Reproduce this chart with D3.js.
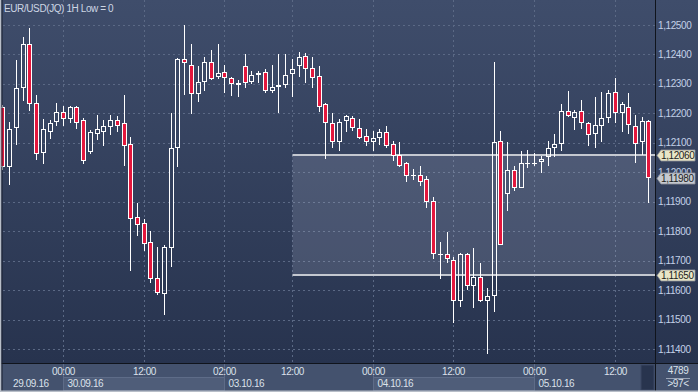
<!DOCTYPE html>
<html><head><meta charset="utf-8">
<script src="https://cdn.jsdelivr.net/npm/d3@7"></script>
<style>html,body{margin:0;padding:0;background:#2f3c58;overflow:hidden}svg{display:block}</style>
</head><body><svg id="c" width="698" height="392"></svg>
<script>
const title = "EUR/USD(JQ) 1H Low = 0";
const opens = [1.12222,1.12018,1.12150,1.12286,1.12435,1.12235,1.12065,1.12137,1.12171,1.12205,
1.12181,1.12222,1.12177,1.12069,1.12130,1.12137,1.12154,1.12177,1.12167,1.12096,
1.11848,1.11828,1.11763,1.11641,1.11586,1.11743,1.12082,1.12385,1.12364,1.12266,
1.12306,1.12374,1.12323,1.12340,1.12320,1.12296,1.12361,1.12306,1.12330,1.12340,
1.12276,1.12289,1.12296,1.12334,1.12361,1.12395,1.12354,1.12327,1.12232,1.12167,
1.12103,1.12174,1.12184,1.12150,1.12123,1.12103,1.12116,1.12137,1.12096,1.12059,
1.12031,1.11987,1.11991,1.11977,1.11902,1.11721,1.11722,1.11702,1.11563,1.11722,
1.11614,1.11644,1.11563,1.11580,1.12106,1.11926,1.12008,1.11946,1.12031,1.12028,
1.12035,1.12052,1.12082,1.12096,1.12208,1.12184,1.12208,1.12167,1.12130,1.12157,
1.12184,1.12272,1.12201,1.12222,1.12157,1.12103,1.12174];
const highs = [1.12228,1.12171,1.12381,1.12459,1.12490,1.12262,1.12181,1.12177,1.12235,1.12225,
1.12225,1.12225,1.12184,1.12143,1.12194,1.12177,1.12194,1.12191,1.12262,1.12120,
1.11896,1.11841,1.11800,1.11746,1.11753,1.12201,1.12388,1.12500,1.12435,1.12361,
1.12391,1.12415,1.12435,1.12364,1.12323,1.12313,1.12402,1.12344,1.12344,1.12351,
1.12364,1.12402,1.12402,1.12385,1.12408,1.12405,1.12391,1.12361,1.12235,1.12201,
1.12181,1.12194,1.12191,1.12181,1.12147,1.12140,1.12147,1.12157,1.12106,1.12103,
1.12035,1.12011,1.12021,1.11987,1.11916,1.11763,1.11797,1.11712,1.11726,1.11726,
1.11743,1.11692,1.11607,1.12374,1.12140,1.12103,1.12021,1.12072,1.12075,1.12065,
1.12055,1.12106,1.12130,1.12232,1.12276,1.12211,1.12245,1.12171,1.12255,1.12272,
1.12279,1.12320,1.12239,1.12269,1.12194,1.12188,1.12177];
const lows = [1.12008,1.11957,1.12092,1.12242,1.12208,1.12042,1.12028,1.12113,1.12157,1.12157,
1.12167,1.12147,1.12028,1.12062,1.12109,1.12089,1.12126,1.12137,1.12021,1.11665,
1.11783,1.11733,1.11624,1.11583,1.11515,1.11678,1.12018,1.12262,1.12198,1.12239,
1.12276,1.12313,1.12317,1.12269,1.12259,1.12255,1.12286,1.12300,1.12303,1.12269,
1.12269,1.12201,1.12286,1.12255,1.12323,1.12303,1.12286,1.12205,1.12045,1.12082,
1.12072,1.12137,1.12140,1.12113,1.12089,1.12072,1.12092,1.12082,1.12038,1.12018,
1.11967,1.11974,1.11953,1.11879,1.11705,1.11637,1.11692,1.11488,1.11542,1.11600,
1.11539,1.11559,1.11383,1.11525,1.11753,1.11868,1.11936,1.11946,1.12014,1.12021,
1.11997,1.12021,1.12052,1.12072,1.12188,1.12143,1.12147,1.12089,1.12082,1.12103,
1.12167,1.12167,1.12137,1.12130,1.12031,1.12059,1.11896];
const closes = [1.12018,1.12147,1.12286,1.12435,1.12232,1.12062,1.12147,1.12167,1.12205,1.12181,
1.12222,1.12167,1.12038,1.12137,1.12147,1.12157,1.12177,1.12157,1.12089,1.11841,
1.11821,1.11756,1.11637,1.11590,1.11746,1.12082,1.12385,1.12371,1.12266,1.12306,
1.12374,1.12317,1.12337,1.12320,1.12300,1.12303,1.12303,1.12330,1.12337,1.12276,
1.12289,1.12296,1.12330,1.12351,1.12391,1.12351,1.12320,1.12222,1.12167,1.12103,
1.12171,1.12191,1.12150,1.12116,1.12103,1.12116,1.12137,1.12089,1.12055,1.12021,
1.11987,1.11991,1.11967,1.11899,1.11722,1.11723,1.11705,1.11563,1.11722,1.11614,
1.11644,1.11563,1.11580,1.12103,1.11753,1.12008,1.11946,1.12031,1.12033,1.12031,
1.12045,1.12082,1.12096,1.12208,1.12191,1.12205,1.12167,1.12126,1.12160,1.12184,
1.12269,1.12201,1.12232,1.12160,1.12096,1.12174,1.11980];
const priceTicks = [1.114,1.115,1.116,1.117,1.118,1.119,1.120,1.121,1.122,1.123,1.124,1.125];
const timeTickIdx = [9,21,33,43,55,67,79,91];
const timeTickLabels = ["00:00","12:00","02:00","12:00","00:00","12:00","00:00","12:00"];
const dayStartIdx = [0,9,33,55,79];
const dayEndIdx = [9,33,55,79,96];
const dayLabels = ["29.09.16","30.09.16","03.10.16","04.10.16","05.10.16"];
const levelPrices = [1.1206, 1.1165];
const levelStartIdx = 43;
const lastPrice = 1.1198;
const barTotal = "4789";
const visibleBars = ">97<";

const W = 698, H = 392, plotR = 655, plotB = 363;
const svg = d3.select("#c");
const defs = svg.append("defs");
const g1 = defs.append("linearGradient").attr("id","bg").attr("x1",0).attr("y1",0).attr("x2",0).attr("y2",1);
g1.append("stop").attr("offset","0%").attr("stop-color","#3f4d6b");
g1.append("stop").attr("offset","100%").attr("stop-color","#27334e");

const idx = d3.range(opens.length);
const x = d3.scaleBand().domain(idx).range([-0.97, -0.97 + 6.73*opens.length]).padding(0);
const cx = i => x(i) + x.bandwidth()/2;
const y = d3.scaleLinear().domain([1.114, 1.125]).range([349, 25]);
const fmt = v => d3.format(".5f")(v).replace(".", ",");
const px = v => Math.round(v) + 0.5;

// backgrounds
svg.append("rect").attr("x",0).attr("y",0).attr("width",W).attr("height",plotB).attr("fill","url(#bg)");
svg.append("rect").attr("x",0).attr("y",plotB).attr("width",W).attr("height",H-plotB).attr("fill","#44526e");

// grid
const grid = svg.append("g").attr("stroke","#5b6985").attr("stroke-dasharray","2,3").attr("stroke-width",1);
grid.selectAll("line.h").data(priceTicks).join("line").attr("class","h")
  .attr("x1",3).attr("x2",plotR).attr("y1",d=>px(y(d))).attr("y2",d=>px(y(d)));
grid.selectAll("line.v").data(timeTickIdx).join("line").attr("class","v")
  .attr("x1",d=>px(cx(d))).attr("x2",d=>px(cx(d))).attr("y1",0).attr("y2",plotB);

// shaded level zone
const zx0 = px(cx(levelStartIdx));
svg.append("rect").attr("x",zx0).attr("y",y(levelPrices[0])).attr("width",plotR-zx0)
  .attr("height",y(levelPrices[1])-y(levelPrices[0])).attr("fill","rgba(200,210,230,0.17)");
svg.selectAll("line.lvl").data(levelPrices).join("line").attr("class","lvl")
  .attr("x1",zx0).attr("x2",plotR).attr("y1",d=>Math.round(y(d))).attr("y2",d=>Math.round(y(d)))
  .attr("stroke","#c4c8d0").attr("stroke-width",2);

// candles
const cg = svg.append("g");
idx.forEach(i => {
  const o = opens[i], c = closes[i], h = highs[i], l = lows[i];
  const bull = c >= o;
  const xc = Math.round(cx(i));
  const top = Math.round(y(Math.max(o,c))), bot = Math.max(Math.round(y(Math.min(o,c))), top+1);
  const yh = Math.round(y(h)), yl = Math.round(y(l));
  if (yh < top) cg.append("line").attr("x1",xc+0.5).attr("x2",xc+0.5).attr("y1",yh).attr("y2",top).attr("stroke","#fff");
  if (yl > bot) cg.append("line").attr("x1",xc+0.5).attr("x2",xc+0.5).attr("y1",bot).attr("y2",yl).attr("stroke","#fff");
  cg.append("rect").attr("x",xc-1.5).attr("y",top+0.5).attr("width",4).attr("height",Math.max(bot-top-1,0.01))
    .attr("fill", bull ? "none" : "#e3173d").attr("stroke","#fff").attr("stroke-width",1);
});

// separators
svg.append("rect").attr("x",plotR+0.5).attr("y",0).attr("width",W-plotR).attr("height",plotB).attr("fill","url(#bg)");
svg.append("line").attr("x1",0).attr("x2",W).attr("y1",plotB+0.5).attr("y2",plotB+0.5).attr("stroke","#10141c");
svg.append("line").attr("x1",plotR+0.5).attr("x2",plotR+0.5).attr("y1",0).attr("y2",H).attr("stroke","#10141c");

const txt = (sel) => sel.attr("font-family","'Liberation Sans', Arial, sans-serif").attr("font-size","10px").attr("letter-spacing","-0.4px");

// title
txt(svg.append("text").attr("x",4).attr("y",12).attr("fill","#cdd6e4").text(title));

// y axis labels
txt(svg.append("g").selectAll("text").data(priceTicks).join("text")
  .attr("x",658).attr("y",d=>y(d)+3.5).attr("fill","#c3d1e8").text(d=>fmt(d)));

// price tags
const tags = [{v:levelPrices[0], fill:"#e9e6c6"},{v:lastPrice, fill:"#c5c9d0"},{v:levelPrices[1], fill:"#e9e6c6"}];
tags.forEach(t => {
  const yy = Math.round(y(t.v)) + 0.5;
  svg.append("path").attr("d",`M657,${yy} L661,${yy-5.5} L695,${yy-5.5} L695,${yy+5.5} L661,${yy+5.5} Z`)
    .attr("fill",t.fill).attr("stroke","#8d9099").attr("stroke-width",0.8);
  txt(svg.append("text").attr("x",661).attr("y",yy+3.5).attr("fill","#1c1c1c").text(fmt(t.v)));
});

// bottom axis: day boxes
dayStartIdx.forEach((s,k) => {
  if (k % 2 === 1) {
    const a = px(cx(s)), b = px(cx(dayEndIdx[k]));
    svg.append("rect").attr("x",a).attr("y",377.5).attr("width",b-a).attr("height",13)
      .attr("fill","#4f5d79").attr("stroke","#5e6c88");
    svg.append("line").attr("x1",a).attr("x2",a).attr("y1",plotB+1).attr("y2",391).attr("stroke","#5e6c88");
    svg.append("line").attr("x1",b).attr("x2",b).attr("y1",plotB+1).attr("y2",391).attr("stroke","#5e6c88");
  }
});
txt(svg.append("g").selectAll("text").data(dayLabels).join("text")
  .attr("x",(d,k)=> Math.max(px(cx(dayStartIdx[k])), 9) + 4).attr("y",387).attr("fill","#dbe1ea").text(d=>d));
txt(svg.append("g").selectAll("text").data(timeTickIdx).join("text")
  .attr("x",d=>px(cx(d))).attr("y",375).attr("text-anchor","middle").attr("fill","#dbe1ea").text((d,k)=>timeTickLabels[k]));

// small dark box at bottom right of plot
svg.append("rect").attr("x",641).attr("y",365).attr("width",13).attr("height",25).attr("fill","#28344e").attr("stroke","#3a4762");

// bar count box
txt(svg.append("text").attr("x",678).attr("y",374).attr("text-anchor","middle").attr("fill","#dbe1ea").text(barTotal));
svg.append("line").attr("x1",666).attr("x2",690).attr("y1",378.5).attr("y2",378.5).attr("stroke","#9aa5b8");
txt(svg.append("text").attr("x",678).attr("y",387).attr("text-anchor","middle").attr("fill","#dbe1ea").text(visibleBars));

// borders
svg.append("rect").attr("x",0).attr("y",0).attr("width",1.5).attr("height",H).attr("fill","#b8bec8");
svg.append("line").attr("x1",2).attr("x2",2).attr("y1",0).attr("y2",H).attr("stroke","#1a2030");
svg.append("rect").attr("x",0).attr("y",H-1.5).attr("width",W).attr("height",1.5).attr("fill","#b8bec8");
</script></body></html>
